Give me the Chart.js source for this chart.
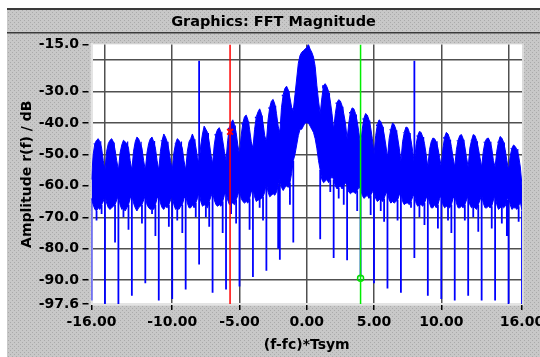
<!DOCTYPE html>
<html>
<head>
<meta charset="utf-8">
<script src="https://cdn.jsdelivr.net/npm/chart.js@4.4.1/dist/chart.umd.min.js"></script>
<style>
  html, body { margin: 0; padding: 0; background: #fff; }
  #wrap { width: 540px; height: 357px; }
</style>
</head>
<body>
<div id="wrap"><canvas id="fft" width="540" height="357"></canvas></div>
<script>
// frequency grid of the spectrum: -16 .. 16 in steps of 1/8
const freqStep = 0.125;
const freq = [];
for (let i = 0; i <= 256; i++) freq.push(-16 + i * freqStep);

// upper edge of the blue band, one row per lobe (offsets 0 .. 7/8)
const upperDb = [
  -58, -50, -46.5, -45.5, -45, -46, -48, -52,     // -16
  -55, -49, -46.5, -45.5, -45, -46, -48.5, -52,   // -15
  -55, -49.5, -47, -45.5, -46, -46.5, -48, -52,   // -14
  -55, -49, -46, -44.5, -45, -46.5, -48, -52,     // -13
  -55, -49.5, -46.5, -45, -44.5, -46, -48, -52,   // -12
  -55, -49, -45.5, -43.5, -44.5, -46, -48.5, -52, // -11
  -55, -49.5, -46.5, -45, -45.5, -46.5, -48, -52, // -10
  -55, -49, -46, -45, -43.5, -45, -47.5, -51,     // -9
  -53, -47, -43.5, -41, -42, -43, -46, -50,       // -8
  -53, -47, -43.5, -42, -41.5, -43, -45.5, -49,   // -7
  -52, -45.5, -41.5, -40, -39, -40.5, -43, -47,   // -6
  -50, -44, -40, -38, -37.5, -39, -42, -46,       // -5
  -48, -42, -38, -36.5, -35.5, -37, -40, -44,     // -4
  -46, -39, -35, -33, -32.5, -34, -37, -41,       // -3
  -43, -35, -31, -29, -28.3, -29.5, -32, -35,     // -2
  -36, -31, -26, -21, -18.5, -17.5, -17, -16.5,   // -1
  -16, -15, -16.5, -17.5, -19, -22, -28, -33,     // 0
  -37, -32, -28, -27.5, -28.5, -30, -33, -37,     // 1
  -42, -37, -33.5, -32.6, -33, -34.5, -37, -40,   // 2
  -45, -40, -36.5, -35.2, -35.5, -37, -39.5, -43, // 3
  -47, -42, -38.5, -37, -37.5, -39, -41.5, -45,   // 4
  -50, -44, -40.5, -39, -39.5, -41, -43.5, -47,   // 5
  -51, -45, -42, -40, -40.5, -42, -44.5, -48,     // 6
  -52, -46, -43, -41.3, -41.5, -43, -45.5, -49,   // 7
  -53, -47, -44, -42.7, -43, -44.5, -46.5, -50,   // 8
  -54, -48.5, -46, -44.8, -45, -46, -48, -51,     // 9
  -54, -48, -44.5, -43, -43.5, -45, -47.5, -51,   // 10
  -54, -48.5, -45.5, -44, -43.7, -45, -47.5, -51, // 11
  -54, -48, -45.5, -43.7, -44, -45.5, -48, -51,   // 12
  -54, -49, -46, -45, -44.8, -46, -48, -52,       // 13
  -54, -49, -46, -44.3, -44.8, -46, -48.5, -52,   // 14
  -55, -50.5, -48, -47, -47.5, -48.5, -50.5, -54, // 15
  -60
];

// lower edge of the blue band
const lowerDb = [
  -64, -66, -67.5, -68, -67, -67.5, -66, -65,    // -16
  -63, -65.5, -67, -67.5, -67, -66.5, -66, -64.5, // -15
  -63, -66, -67.5, -67, -68, -67, -66, -64,      // -14
  -63, -65.5, -67, -68, -67, -66.5, -66, -64.5,  // -13
  -63, -66, -67, -67.5, -67, -67.5, -66, -64,    // -12
  -63, -65.5, -67, -67.5, -66.5, -67, -66, -64.5, // -11
  -63, -66, -67.5, -67, -67.5, -66.5, -66, -64,  // -10
  -63, -65.5, -67, -67, -66, -67, -65.5, -64,    // -9
  -62, -65, -66.5, -66, -66.5, -67, -65, -63.5,  // -8
  -62, -64.5, -66, -66.5, -66, -66.5, -65, -63,  // -7
  -62, -64.5, -66, -65.5, -65.5, -66, -64.5, -63, // -6
  -61, -64, -65, -65.5, -65, -65.5, -64, -62,    // -5
  -61, -63.5, -65, -64.5, -64.5, -64, -63.5, -62, // -4
  -59, -62, -63.5, -63, -62.5, -63, -62, -60,    // -3
  -58, -60.5, -61.5, -60.5, -60, -60.5, -59, -56, // -2
  -52, -50, -47, -44, -42, -42, -41, -40,        // -1
  -40, -40, -41, -42, -43, -45, -48, -52,        // 0
  -55, -58, -59, -58.5, -58, -59, -58, -57,      // 1
  -58, -60, -61, -60.5, -60, -61, -60, -59,      // 2
  -60, -62, -62.5, -62, -62, -62.5, -61.5, -60.5, // 3
  -61, -63, -64, -63.5, -63, -64, -63, -62,      // 4
  -61.5, -64, -65, -64.5, -64, -65, -64, -62.5,  // 5
  -62, -64.5, -65.5, -65, -65.5, -65, -64.5, -63, // 6
  -62, -65, -66, -65.5, -65.5, -66, -65, -63.5,  // 7
  -62.5, -65.5, -66.5, -66, -66, -66.5, -65.5, -64, // 8
  -63, -65.5, -67, -67, -66, -67, -66, -64,      // 9
  -63, -66, -67, -66.5, -67, -67, -66, -64,      // 10
  -63, -65.5, -67, -67, -66.5, -67, -66, -64.5,  // 11
  -63, -66, -67, -66.5, -67, -67.5, -66, -64.5,  // 12
  -63, -65.5, -67, -67, -66.5, -67, -66.5, -64.5, // 13
  -63, -66, -67.5, -67, -66.5, -67, -66.5, -64.5, // 14
  -63.5, -66, -67.5, -67, -67, -67.5, -66.5, -65, // 15
  -68
];

// spectral nulls at the integer frequencies
const nullX = [-16, -15, -14, -13, -12, -11, -10, -9, -8, -7, -6, -5, -4, -3, -2, -1,
               1, 2, 3, 4, 5, 6, 7, 8, 9, 10, 11, 12, 13, 14, 15, 16];
const nullDb = [-96.5, -97.6, -97.6, -95, -91, -96.5, -96, -93, -85, -94, -93, -92, -89, -87, -83.5, -78,
                -77, -83, -83.7, -89, -91, -92.7, -94, -83, -95, -96, -96.5, -95, -96.5, -96.5, -97.6, -97.6];

// smaller dips inside the lobes
const dipX = [-15.25, -14.25, -13.25, -12.25, -11.25, -10.25, -9.25, -8.25, -7.25, -6.25, -5.25, -4.25, -3.25, -2.125, -1.25,
              1.75, 2.75, 3.75, 4.75, 5.75, 6.75, 7.75, 8.75, 9.75, 10.75, 11.75, 12.75, 13.75, 14.875, 15.75,
              -15.625, -13.625, -11.5, -9.625, -7.5, -5.625, -3.5, 2.375, 5.5, 8.375, 10.5, 12.375, 14.5];
const dipDb = [-69, -78, -74, -72, -76, -73, -75, -70, -73, -75, -72, -74, -71, -80, -66,
               -62, -66, -68, -69.3, -71.4, -71, -67, -72.5, -73.6, -75, -71, -74.6, -73.6, -76, -71.4,
               -71, -70, -69, -71, -70, -69, -67, -64, -68, -70, -71, -70, -72];

// small ripple spikes on the lobe tops (at k + 3/16 and k + 11/16)
const ripLobe = [-16, -15, -14, -13, -12, -11, -10, -9, -8, -7, -6, -5, -4, -3, -2,
                 1, 2, 3, 4, 5, 6, 7, 8, 9, 10, 11, 12, 13, 14, 15];
const ripDbA = [-46.8, -46.5, -47, -46, -46.5, -45.8, -46.6, -46, -43.5, -44, -42, -40.5, -38.5, -35.5, -31.5,
                -29, -34, -37, -39, -41, -42.3, -43.2, -44.3, -46, -45, -45.8, -45.6, -46.3, -46.2, -48.2];
const ripDbB = [-45.8, -46.2, -45.9, -46, -45.7, -46, -45.9, -45.2, -43.2, -42.8, -40.8, -39.5, -37.6, -34.5, -29.8,
                -30.5, -34.8, -37.3, -39.2, -41.2, -42.3, -43.2, -44.5, -45.8, -45.3, -45.3, -45.8, -46, -46.2, -48.3];

// the two discrete tones
const toneX = [-8, 8];
const toneDb = [-20.2, -20.2];

// cursors: red (x) and green (o)
const cursorX = [-5.7, 4.0];
const cursorDb = [-42.8, -89.4];

// axes
const yMin = -97.6, yMax = -15;
const xTickVals = [-16, -15, -10, -5, 0, 5, 10, 15, 16];
const xLabelVals = [-16, -10, -5, 0, 5, 10, 16];
const xGridVals = [-15, -10, -5, 0, 5, 10, 15];
const yTickVals = [-97.6, -90, -80, -70, -60, -50, -40, -30, -20, -15];
const yLabelVals = [-97.6, -90, -80, -70, -60, -50, -40, -30, -15];
const yGridVals = [-90, -80, -70, -60, -50, -40, -30, -20];

const BLUE = '#0000ff';
const boldFont = { family: 'DejaVu Sans', size: 14, weight: 'bold' };

function gridIdx(x) {
  return Math.round((x + 16) / freqStep);
}

const topLine = freq.map((x, i) => ({ x, y: upperDb[i] }));
const bottomLine = freq.map((x, i) => ({ x, y: lowerDb[i] }));

const spikes = [];
nullX.forEach((x, i) => {
  spikes.push({ x, y: lowerDb[gridIdx(x)] }, { x, y: nullDb[i] }, { x, y: null });
});
dipX.forEach((x, i) => {
  spikes.push({ x, y: lowerDb[gridIdx(x)] }, { x, y: dipDb[i] }, { x, y: null });
});
toneX.forEach((x, i) => {
  spikes.push({ x, y: upperDb[gridIdx(x)] }, { x, y: toneDb[i] }, { x, y: null });
});

// ripples start a little inside the band
const ripples = [];
ripLobe.forEach((k, i) => {
  const xa = k + 0.1875, xb = k + 0.6875;
  ripples.push({ x: xa, y: upperDb[gridIdx(xa)] }, { x: xa, y: ripDbA[i] }, { x: xa, y: null });
  ripples.push({ x: xb, y: upperDb[gridIdx(xb)] }, { x: xb, y: ripDbB[i] }, { x: xb, y: null });
});

function greyPattern(ctx) {
  const c = document.createElement('canvas');
  c.width = 4;
  c.height = 4;
  const g = c.getContext('2d');
  g.fillStyle = '#c8c8c8';
  g.fillRect(0, 0, 4, 4);
  g.fillStyle = '#aaaaaa';
  g.fillRect(0, 0, 1, 1);
  g.fillRect(2, 2, 1, 1);
  return ctx.createPattern(c, 'repeat');
}

// grey window frame, title bar lines, white plot area
const framePlugin = {
  id: 'frame',
  beforeDraw(chart) {
    const { ctx, width, height, chartArea: a } = chart;
    ctx.save();
    ctx.fillStyle = '#fff';
    ctx.fillRect(0, 0, width, height);
    ctx.fillStyle = greyPattern(ctx);
    ctx.fillRect(7, 8, width - 7, height - 8);
    ctx.fillStyle = '#3a3a3a';
    ctx.fillRect(7, 8, width - 7, 2);
    ctx.fillRect(7, 32, width - 7, 1.5);
    ctx.fillStyle = '#dadada';
    ctx.fillRect(a.left - 1, a.top - 1, a.right - a.left + 3, a.bottom - a.top + 3);
    ctx.fillStyle = '#fff';
    ctx.fillRect(a.left, a.top, a.right - a.left, a.bottom - a.top);
    ctx.restore();
  }
};

new Chart(document.getElementById('fft'), {
  type: 'line',
  data: {
    datasets: [
      {
        data: [{ x: cursorX[0], y: yMin }, { x: cursorX[0], y: yMax }],
        borderColor: '#ff0000', borderWidth: 1.5, pointRadius: 0, order: 0
      },
      {
        data: [{ x: cursorX[0], y: cursorDb[0] }],
        showLine: false, pointStyle: 'crossRot', pointRadius: 4,
        borderColor: '#ff0000', borderWidth: 2, order: 0
      },
      {
        data: [{ x: cursorX[1], y: yMin }, { x: cursorX[1], y: yMax }],
        borderColor: '#00ee00', borderWidth: 1.5, pointRadius: 0, order: 0
      },
      {
        data: [{ x: cursorX[1], y: cursorDb[1] }],
        showLine: false, pointStyle: 'circle', pointRadius: 3,
        borderColor: '#00dd00', backgroundColor: 'rgba(0,0,0,0)', borderWidth: 1.5, order: 0
      },
      {
        data: spikes, borderColor: BLUE, borderWidth: 1.8,
        pointRadius: 0, spanGaps: false, order: 1
      },
      {
        data: ripples, borderColor: BLUE, borderWidth: 1.2,
        pointRadius: 0, spanGaps: false, order: 1
      },
      {
        data: topLine, borderColor: BLUE, borderWidth: 1,
        pointRadius: 0, fill: false, order: 2
      },
      {
        data: bottomLine, borderColor: BLUE, borderWidth: 1,
        backgroundColor: BLUE, pointRadius: 0, fill: '-1', order: 2
      }
    ]
  },
  options: {
    responsive: false,
    animation: false,
    devicePixelRatio: 1,
    layout: { padding: { left: 7, right: 0, top: 0, bottom: 0 } },
    plugins: {
      legend: { display: false },
      tooltip: { enabled: false },
      title: {
        display: true,
        text: 'Graphics: FFT Magnitude',
        color: '#000',
        font: { family: 'DejaVu Sans', size: 14.5, weight: 'bold' },
        padding: { top: 14, bottom: 13 }
      }
    },
    scales: {
      x: {
        type: 'linear', min: -16, max: 16,
        afterBuildTicks: s => { s.ticks = xTickVals.map(v => ({ value: v })); },
        afterFit: s => { s.height = 53; s.paddingLeft = 0; s.paddingRight = 0; },
        ticks: {
          autoSkip: false, maxRotation: 0, padding: 4, color: '#000', font: boldFont,
          callback: v => xLabelVals.includes(v) ? v.toFixed(2) : ''
        },
        grid: {
          color: c => xGridVals.includes(c.tick.value) ? '#505050' : 'rgba(0,0,0,0)',
          tickColor: c => xLabelVals.includes(c.tick.value) ? '#000' : 'rgba(0,0,0,0)',
          tickLength: 6, lineWidth: 1.5
        },
        border: { color: '#e4e4e4', width: 2 },
        title: {
          display: true, text: '(f-fc)*Tsym', color: '#000', font: boldFont,
          padding: { top: 0, bottom: 3.6 }
        }
      },
      y: {
        type: 'linear', min: yMin, max: yMax,
        afterBuildTicks: s => { s.ticks = yTickVals.map(v => ({ value: v })); },
        afterFit: s => { s.width = 84.5; s.paddingTop = 0; s.paddingBottom = 0; },
        ticks: {
          autoSkip: false, padding: 3.5, color: '#000', font: boldFont,
          callback: v => yLabelVals.includes(v) ? v.toFixed(1) : ''
        },
        grid: {
          color: c => yGridVals.includes(c.tick.value) ? '#505050' : 'rgba(0,0,0,0)',
          tickColor: c => yLabelVals.includes(c.tick.value) ? '#000' : 'rgba(0,0,0,0)',
          tickLength: 9, tickBorderDash: [6, 3], lineWidth: 1.5
        },
        border: { color: '#e4e4e4', width: 2 },
        title: {
          display: true, text: 'Amplitude r(f) / dB', color: '#000', font: boldFont,
          padding: { top: 11.6, bottom: 0 }
        }
      },
      y2: {
        position: 'right', display: true,
        afterFit: s => { s.width = 18; },
        ticks: { display: false },
        grid: { display: false },
        border: { display: false }
      }
    }
  },
  plugins: [framePlugin]
});
</script>
</body>
</html>
